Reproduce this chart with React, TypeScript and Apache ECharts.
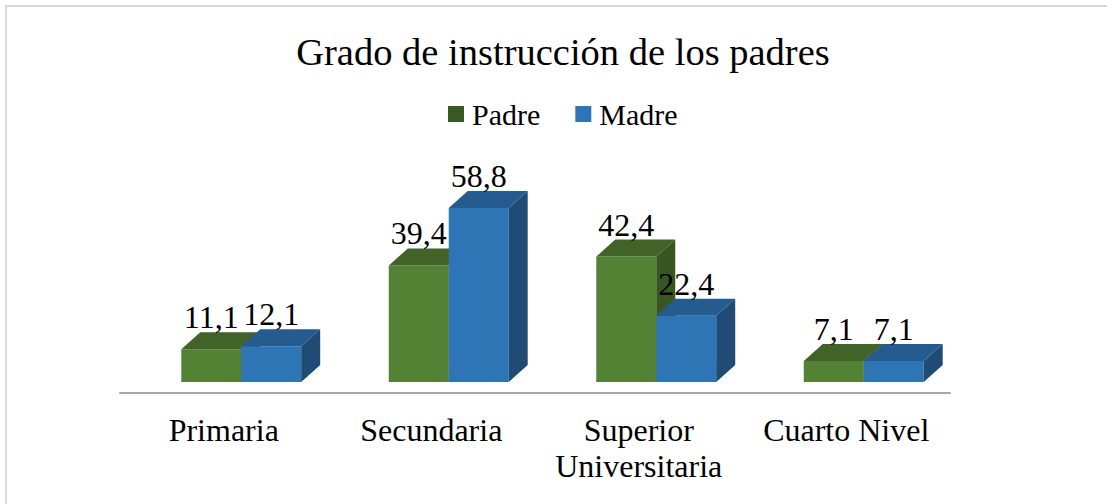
import React, { useEffect, useRef } from "react";
import * as echarts from "echarts";

const categories = ["Primaria", "Secundaria", "Superior\nUniversitaria", "Cuarto Nivel"];
const padre = [11.1, 39.4, 42.4, 7.1];
const madre = [12.1, 58.8, 22.4, 7.1];
const seriesNames = ["Padre", "Madre"];
const titleText = "Grado de instrucción de los padres";

const FONT = '"Liberation Serif", "Times New Roman", serif';
const DX = 19;
const DY = -17;
const LIFT = 11; // floor depth: bars stand behind the front edge of the floor

const palettes = [
  { front: "#548235", top: "#416328", side: "#385621", legend: "#3a5a25" },
  { front: "#2e75b6", top: "#245c8f", side: "#1f4b75", legend: "#2e75b6" },
];

function makeRender(sIdx: number) {
  const pal = palettes[sIdx];
  return (params: any, api: any) => {
    const idx = api.value(0);
    const val = api.value(1);
    const base = api.coord([idx, 0]);
    const topPt = api.coord([idx, val]);
    const band = api.size([1, 0])[0];
    const w = band * 0.289;
    const mid = base[0] + band * 0.0843;
    const x0 = sIdx === 0 ? mid - w : mid;
    const x1 = x0 + w;
    const yb = base[1] - LIFT;
    const yt = topPt[1] - LIFT;
    return {
      type: "group",
      children: [
        {
          type: "polygon",
          shape: { points: [[x0, yt], [x1, yt], [x1, yb], [x0, yb]] },
          style: { fill: pal.front },
        },
        {
          type: "polygon",
          shape: { points: [[x0, yt], [x1, yt], [x1 + DX, yt + DY], [x0 + DX, yt + DY]] },
          style: { fill: pal.top },
        },
        {
          type: "polygon",
          shape: { points: [[x1, yt], [x1 + DX, yt + DY], [x1 + DX, yb + DY], [x1, yb]] },
          style: { fill: pal.side },
        },
        {
          type: "text",
          z2: 10,
          style: {
            text: val.toFixed(1).replace(".", ","),
            x: (x0 + x1) / 2,
            y: yt + DY - 15,
            textAlign: "center",
            textVerticalAlign: "middle",
            font: `32px ${FONT}`,
            fill: "#000",
          },
        },
      ],
    };
  };
}

export default function App() {
  const ref = useRef<HTMLDivElement>(null);
  useEffect(() => {
    if (!ref.current) return;
    const chart = echarts.init(ref.current, null, { renderer: "svg" });
    const seriesData = [padre, madre];
    chart.setOption({
      animation: false,
      backgroundColor: "#fff",
      title: {
        text: titleText,
        left: 563,
        textAlign: "center",
        top: 32,
        padding: 0,
        textStyle: { fontFamily: FONT, fontSize: 38.5, fontWeight: "normal", color: "#000" },
      },
      legend: {
        top: 99,
        left: 448,
        padding: 0,
        itemWidth: 16,
        itemHeight: 16,
        itemGap: 35,
        icon: "rect",
        data: seriesNames.map((n, i) => ({ name: n, itemStyle: { color: palettes[i].legend } })),
        textStyle: { fontFamily: FONT, fontSize: 30, color: "#000", padding: [0, 0, 0, 3] },
      },
      graphic: [
        {
          type: "rect",
          shape: { x: 6, y: 6, width: 1300, height: 700 },
          style: { fill: "none", stroke: "#d9d9d9", lineWidth: 2 },
          silent: true,
        },
      ],
      grid: { left: 120, right: 157, top: 186, bottom: 111 },
      xAxis: {
        type: "category",
        data: categories,
        axisLine: { lineStyle: { color: "#a6a6a6", width: 2 } },
        axisTick: { show: false },
        axisLabel: {
          fontFamily: FONT,
          fontSize: 32,
          color: "#000",
          margin: 19,
          lineHeight: 36,
          interval: 0,
        },
      },
      yAxis: { type: "value", min: 0, max: 70, show: false },
      series: seriesNames.map((n, i) => ({
        name: n,
        type: "custom",
        itemStyle: { color: palettes[i].legend },
        encode: { x: 0, y: 1 },
        data: seriesData[i].map((v, k) => [k, v]),
        renderItem: makeRender(i),
      })),
    });
    return () => chart.dispose();
  }, []);
  return (
    <div
      ref={ref}
      style={{ position: "fixed", left: 0, top: 0, width: 1107, height: 504 }}
    />
  );
}
